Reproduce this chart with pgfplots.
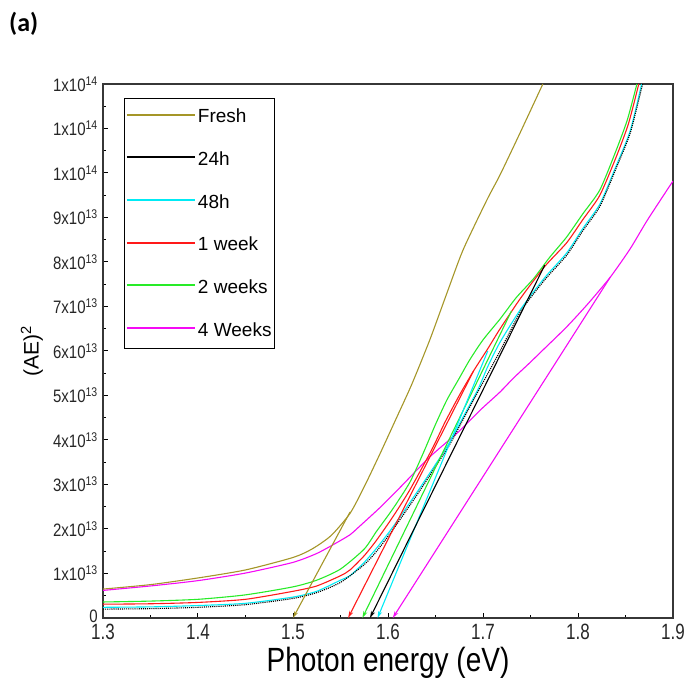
\documentclass[border=0pt]{standalone}
\usepackage{pgfplots}
\pgfplotsset{compat=1.18}
\usepackage{fontspec}
\setmainfont{Liberation Sans}
\newfontfamily\carlito{Carlito}
\usetikzlibrary{arrows.meta}
\definecolor{cOlive}{RGB}{165,150,40}
\definecolor{cGreen}{RGB}{40,235,40}
\definecolor{cCyan}{RGB}{0,235,245}
\definecolor{cRed}{RGB}{255,25,25}
\definecolor{cMag}{RGB}{245,10,245}
\definecolor{cAxis}{RGB}{55,55,55}
\newcommand\yt[1]{\scalebox{1}[1.2]{#1}}
\newcommand\xt[1]{\scalebox{1}[1.3]{#1}}
\begin{document}
\begin{tikzpicture}
\begin{axis}[
  name=ax,
  scale only axis, width=570pt, height=534pt,
  xmin=1.3, xmax=1.9, ymin=0, ymax=12,
  axis line style={cAxis, line width=1.5pt},
  xtick={1.3,1.4,1.5,1.6,1.7,1.8,1.9},
  xticklabels={\xt{1.3},\xt{1.4},\xt{1.5},\xt{1.6},\xt{1.7},\xt{1.8},\xt{1.9}},
  ytick={0,1,2,3,4,5,6,7,8,9,10,11,12},
  yticklabels={\raisebox{4pt}{\yt{0}}\hspace{2.5pt},\yt{1x10\textsuperscript{13}},\yt{2x10\textsuperscript{13}},\yt{3x10\textsuperscript{13}},\yt{4x10\textsuperscript{13}},\yt{5x10\textsuperscript{13}},\yt{6x10\textsuperscript{13}},\yt{7x10\textsuperscript{13}},\yt{8x10\textsuperscript{13}},\yt{9x10\textsuperscript{13}},\yt{1x10\textsuperscript{14}},\yt{1x10\textsuperscript{14}},\yt{1x10\textsuperscript{14}}},
  minor x tick num=1, minor y tick num=1,
  xtick pos=bottom, ytick pos=left,
  tick align=inside,
  major tick length=5pt, minor tick length=3pt,
  tick style={black, line width=1pt},
  xticklabel style={font=\fontsize{17}{17}\selectfont, color=black!85, inner sep=0.5pt, yshift=-5.5pt},
  yticklabel style={font=\fontsize{15}{15}\selectfont, color=black!85, inner sep=1pt, xshift=-4pt},
  xlabel={\scalebox{1}[1.2]{Photon energy (eV)}},
  xlabel style={font=\fontsize{28}{28}\selectfont, inner sep=0pt, at={(axis description cs:0.5,0)}, anchor=base, yshift=-53pt},
  ylabel={(AE)\textsuperscript{2}},
  ylabel style={font=\fontsize{21}{21}\selectfont, at={(axis description cs:-0.1246,0.5)}, anchor=center},
  legend style={at={(axis description cs:0.0377,0.9747)}, anchor=north west, draw=black, line width=1pt,
    font=\fontsize{19}{19}\selectfont, inner xsep=1pt, inner ysep=9pt, row sep=23.4pt, fill=white},
  legend cell align=left,
  legend image code/.code={\draw[line width=2pt,#1] (0pt,2pt) -- (68pt,2pt);},
]
% Fresh
\addplot[cOlive, line width=1.1pt, smooth, tension=0.4, forget plot] coordinates {
(1.30,0.65) (1.35,0.75) (1.40,0.90) (1.45,1.08) (1.50,1.36) (1.52,1.55) (1.54,1.85)
(1.56,2.35) (1.575,2.95) (1.592,3.71) (1.609,4.50) (1.625,5.25) (1.644,6.25) (1.662,7.30)
(1.679,8.27) (1.704,9.39) (1.718,9.96) (1.739,10.90) (1.763,12.0)};
% 4 Weeks
\addplot[cMag, line width=1.1pt, smooth, tension=0.4, forget plot] coordinates {
(1.30,0.62) (1.35,0.72) (1.40,0.84) (1.45,1.01) (1.50,1.25) (1.525,1.45) (1.545,1.68)
(1.560,1.87) (1.568,2.02) (1.592,2.49) (1.613,2.94) (1.644,3.62) (1.673,4.16) (1.697,4.67)
(1.718,5.08) (1.732,5.39) (1.749,5.73) (1.763,6.02) (1.788,6.54) (1.810,7.05) (1.834,7.66)
(1.855,8.30) (1.873,8.94) (1.900,9.82)};
% 2 weeks
\addplot[cGreen, line width=1.1pt, smooth, tension=0.4, forget plot] coordinates {
(1.30,0.36) (1.35,0.38) (1.40,0.42) (1.45,0.52) (1.50,0.70) (1.525,0.85) (1.55,1.10)
(1.575,1.55) (1.588,1.95) (1.605,2.45) (1.623,3.05) (1.637,3.70) (1.650,4.35) (1.662,4.90)
(1.674,5.35) (1.686,5.80) (1.700,6.25) (1.718,6.72) (1.735,7.20) (1.753,7.62) (1.770,8.10)
(1.788,8.56) (1.805,9.08) (1.823,9.62) (1.840,10.50) (1.852,11.20) (1.862,12.0)};
% 1 week
\addplot[cRed, line width=1.1pt, smooth, tension=0.4, forget plot] coordinates {
(1.30,0.31) (1.35,0.32) (1.40,0.35) (1.45,0.42) (1.50,0.60) (1.525,0.72) (1.55,0.95)
(1.56,1.08) (1.575,1.40) (1.588,1.75) (1.605,2.27) (1.623,2.88) (1.646,3.78) (1.660,4.40)
(1.675,5.00) (1.690,5.55) (1.705,6.05) (1.718,6.50) (1.740,7.20) (1.765,7.90) (1.788,8.43)
(1.805,8.95) (1.823,9.50) (1.840,10.35) (1.853,11.10) (1.864,12.0)};
% 48h
\addplot[cCyan, line width=1.1pt, smooth, tension=0.4, forget plot] coordinates {
(1.30,0.24) (1.35,0.25) (1.40,0.28) (1.45,0.33) (1.50,0.47) (1.525,0.60) (1.55,0.85)
(1.56,0.95) (1.575,1.25) (1.588,1.57) (1.605,2.04) (1.630,2.81) (1.650,3.45) (1.665,3.95)
(1.680,4.55) (1.695,5.15) (1.705,5.65) (1.718,6.20) (1.740,6.95) (1.765,7.65) (1.788,8.20)
(1.805,8.75) (1.823,9.30) (1.840,10.15) (1.855,10.95) (1.867,12.0)};
% 24h
\addplot[black, line width=1.1pt, densely dotted, smooth, tension=0.4, forget plot] coordinates {
(1.30,0.20) (1.35,0.21) (1.40,0.24) (1.45,0.30) (1.50,0.44) (1.525,0.57) (1.55,0.80)
(1.575,1.20) (1.588,1.50) (1.605,1.98) (1.630,2.75) (1.650,3.40) (1.665,3.90) (1.680,4.50)
(1.695,5.10) (1.718,6.00) (1.740,6.90) (1.765,7.60) (1.788,8.15) (1.805,8.70) (1.823,9.25)
(1.840,10.10) (1.855,10.90) (1.868,12.0)};
% tangent lines
\addplot[cOlive, line width=1.1pt, -{Stealth[length=7pt,width=4pt]}, forget plot] coordinates {(1.560,2.38) (1.500,0)};
\addplot[cMag, line width=1.1pt, -{Stealth[length=7pt,width=4pt]}, forget plot] coordinates {(1.834,7.66) (1.605,0)};
\addplot[cRed, line width=1.1pt, -{Stealth[length=7pt,width=4pt]}, forget plot] coordinates {(1.690,5.55) (1.558,0)};
\addplot[cGreen, line width=1.1pt, -{Stealth[length=7pt,width=4pt]}, forget plot] coordinates {(1.730,6.90) (1.573,0)};
\addplot[cCyan, line width=1.1pt, -{Stealth[length=7pt,width=4pt]}, forget plot] coordinates {(1.705,6.00) (1.589,0)};
\addplot[black, line width=1.1pt, -{Stealth[length=7pt,width=4pt]}, forget plot] coordinates {(1.765,7.93) (1.581,0)};
% legend
\addlegendimage{draw=cOlive}\addlegendentry{Fresh}
\addlegendimage{draw=black}\addlegendentry{24h}
\addlegendimage{draw=cCyan}\addlegendentry{48h}
\addlegendimage{draw=cRed}\addlegendentry{1 week}
\addlegendimage{draw=cGreen}\addlegendentry{2 weeks}
\addlegendimage{draw=cMag}\addlegendentry{4 Weeks}
\end{axis}
\node[anchor=north west, inner sep=0pt, font=\carlito\bfseries\fontsize{26}{26}\selectfont] at ([shift={(-94pt,72pt)}]ax.north west) {(a)};
\pgfresetboundingbox
\path ([shift={(-103pt,-67pt)}]ax.south west) rectangle ([shift={(11pt,84pt)}]ax.north east);
\end{tikzpicture}
\end{document}
